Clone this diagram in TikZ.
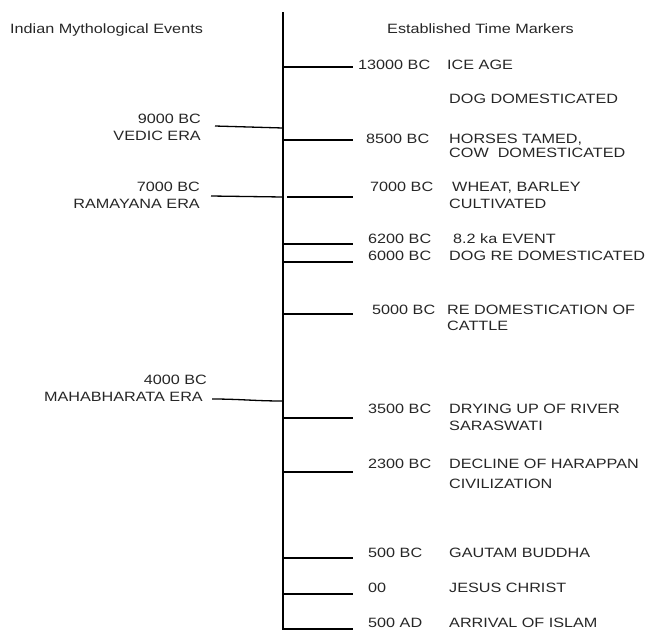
\documentclass[tikz,border=0pt]{standalone}
\usepackage{fontspec}
\setmainfont[FakeStretch=1.2]{Liberation Sans}
\usetikzlibrary{positioning}
\tikzset{
  every node/.style={
    inner sep=0pt,
    text=black!85,
    font=\fontsize{13.5}{17}\selectfont
  },
  datelbl/.style={anchor=base west},
  eventlbl/.style={anchor=base west, align=left},
  eralbl/.style={anchor=base east, align=right},
  tickline/.style={line width=1.3pt},
  axisline/.style={line width=2pt}
}

\begin{document}
\begin{tikzpicture}[x=1pt,y=-1pt]
  \useasboundingbox (0,0) rectangle (647,630);
  % headings
  \node[datelbl] (LeftHead) at (10,33) {Indian Mythological Events};
  \node[datelbl] (RightHead) at (387,33) {Established Time Markers};
  % time axis
  \coordinate (Top) at (283,12);
  \coordinate (Bottom) at (283,630);
  \draw[axisline] (Top) -- (Bottom);
  % mythological eras (left), placed by the last line
  \node[eralbl] (Vedic) at (201,140) {9000 BC\\VEDIC ERA};
  \node[eralbl] (Ramayana) at (200,208) {7000 BC\\RAMAYANA ERA};
  \node[eralbl] (Mahabharata) at (207,401) {4000 BC\\\llap{MAHABHARATA ERA}\hspace*{4pt}};
  \coordinate (VedicTick) at (215,126);
  \coordinate (RamayanaTick) at (211,196);
  \coordinate (MahabharataTick) at (212,399);
  \draw[tickline] (VedicTick) -- (Top |- 0,128);
  \draw[tickline] (RamayanaTick) -- (Top |- 0,197);
  \draw[tickline] (MahabharataTick) to[out=0,in=180] (Top |- 0,401);
  % established markers (right)
  \node[datelbl] (D13000) at (358,69) {13000 BC};
  \node[eventlbl] (E13000) at (447,69) {ICE AGE};
  \node[eventlbl] (EDog) at (449,103) {DOG DOMESTICATED};
  \node[datelbl] (D8500) at (366,143) {8500 BC};
  \node[eventlbl] (E8500) at (449,157) {HORSES TAMED,\\[-3pt]COW\ \ DOMESTICATED};
  \node[datelbl] (D7000) at (370,191) {7000 BC};
  \node[eventlbl] (E7000) at (452,208) {WHEAT, BARLEY\\\hspace*{-3pt}CULTIVATED};
  \node[datelbl] (D6200) at (368,243) {6200 BC};
  \node[eventlbl] (E6200) at (453,243) {8.2 ka EVENT};
  \node[datelbl] (D6000) at (368,260) {6000 BC};
  \node[eventlbl] (E6000) at (449,260) {DOG RE DOMESTICATED};
  \node[datelbl] (D5000) at (372,314) {5000 BC};
  \node[eventlbl] (E5000) at (447,330) {RE DOMESTICATION OF\\[-1pt]CATTLE};
  \node[datelbl] (D3500) at (368,413) {3500 BC};
  \node[eventlbl] (E3500) at (449,430) {DRYING UP OF RIVER\\SARASWATI};
  \node[datelbl] (D2300) at (368,468) {2300 BC};
  \node[eventlbl] (E2300) at (449,488) {DECLINE OF HARAPPAN\\[3pt]CIVILIZATION};
  \node[datelbl] (D500BC) at (368,557) {500 BC};
  \node[eventlbl] (E500BC) at (449,557) {GAUTAM BUDDHA};
  \node[datelbl] (D00) at (368,592) {00};
  \node[eventlbl] (E00) at (449,592) {JESUS CHRIST};
  \node[datelbl] (D500AD) at (368,627) {500 AD};
  \node[eventlbl] (E500AD) at (449,627) {ARRIVAL OF ISLAM};
  % ticks to the right
  \coordinate (T13000) at (353,67);
  \coordinate (T8500) at (353,140);
  \coordinate (T7000) at (353,197);
  \coordinate (T6200) at (353,244);
  \coordinate (T6000) at (353,262);
  \coordinate (T5000) at (353,314);
  \coordinate (T3500) at (353,418);
  \coordinate (T2300) at (353,472);
  \coordinate (T500BC) at (353,558);
  \coordinate (T00) at (353,594);
  \coordinate (T500AD) at (353,629);
  \draw[tickline] (Top |- T13000) -- (T13000);
  \draw[tickline] (Top |- T8500) -- (T8500);
  \draw[tickline] ([xshift=4pt]Top |- T7000) -- (T7000);
  \draw[tickline] (Top |- T6200) -- (T6200);
  \draw[tickline] (Top |- T6000) -- (T6000);
  \draw[tickline] (Top |- T5000) -- (T5000);
  \draw[tickline] (Top |- T3500) -- (T3500);
  \draw[tickline] (Top |- T2300) -- (T2300);
  \draw[tickline] (Top |- T500BC) -- (T500BC);
  \draw[tickline] (Top |- T00) -- (T00);
  \draw[tickline] (Top |- T500AD) -- (T500AD);
\end{tikzpicture}
\end{document}
